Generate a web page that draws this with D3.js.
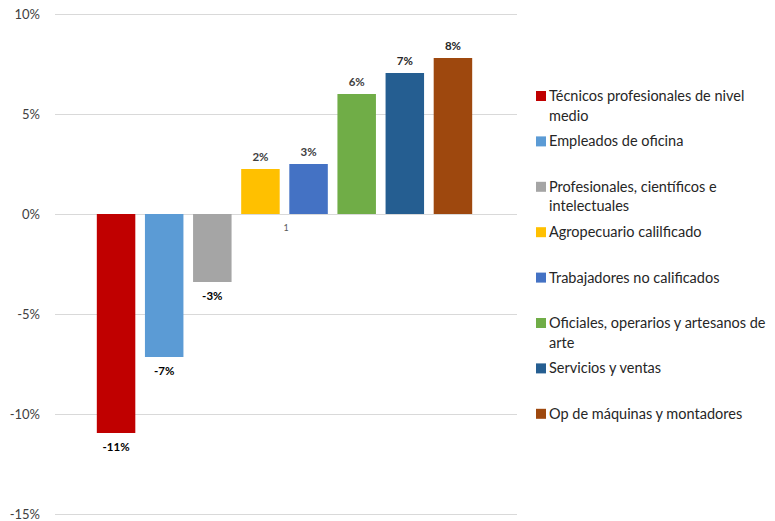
<!DOCTYPE html>
<html>
<head>
<meta charset="utf-8">
<script src="https://cdn.jsdelivr.net/npm/d3@7.9.0/dist/d3.min.js"></script>
<style>
  body { margin: 0; background: #fff; }
  svg { font-family: Lato, "Open Sans", sans-serif; }
</style>
</head>
<body>
<svg id="chart" width="775" height="521"></svg>
<script>
const categories = [
  'Técnicos profesionales de nivel medio',
  'Empleados de oficina',
  'Profesionales, científicos e intelectuales',
  'Agropecuario calilficado',
  'Trabajadores no calificados',
  'Oficiales, operarios y artesanos de arte',
  'Servicios y ventas',
  'Op de máquinas y montadores'
];
const values = [-10.95, -7.15, -3.4, 2.25, 2.5, 6.0, 7.05, 7.8];
const labels = ['-11%', '-7%', '-3%', '2%', '3%', '6%', '7%', '8%'];
const colors = ['#c00000', '#5b9bd5', '#a5a5a5', '#ffc000', '#4472c4', '#70ad47', '#255e91', '#9e480e'];
const labelColors = ['#000', '#000', '#000', '#404040', '#404040', '#404040', '#262626', '#262626'];
const yTicks = [10, 5, 0, -5, -10, -15];
const groupLabel = '1';

const svg = d3.select('#chart');

const y = d3.scaleLinear().domain([-15, 10]).range([514, 14]);
const group = d3.scaleBand().domain([groupLabel]).range([55, 517]).paddingInner(0).paddingOuter(0);
const x = d3.scaleBand()
  .domain(categories)
  .range([group(groupLabel) + 37, group(groupLabel) + group.bandwidth() - 40])
  .paddingInner(0.2)
  .paddingOuter(0.1);

// gridlines
svg.append('g')
  .selectAll('line')
  .data(yTicks)
  .join('line')
  .attr('x1', 55)
  .attr('x2', 517)
  .attr('y1', d => y(d) + 0.5)
  .attr('y2', d => y(d) + 0.5)
  .attr('stroke', '#d9d9d9')
  .attr('stroke-width', 1);

// y axis labels
svg.append('g')
  .selectAll('text')
  .data(yTicks)
  .join('text')
  .attr('x', 40)
  .attr('y', d => y(d))
  .attr('dy', '0.35em')
  .attr('text-anchor', 'end')
  .attr('font-size', 13)
  .attr('fill', '#404040')
  .text(d => d + '%');

// bars
svg.append('g')
  .selectAll('rect')
  .data(values)
  .join('rect')
  .attr('x', (d, i) => x(categories[i]))
  .attr('width', x.bandwidth())
  .attr('y', d => y(Math.max(0, d)))
  .attr('height', d => Math.abs(y(d) - y(0)))
  .attr('fill', (d, i) => colors[i]);

// value labels
svg.append('g')
  .selectAll('text')
  .data(values)
  .join('text')
  .attr('x', (d, i) => x(categories[i]) + x.bandwidth() / 2)
  .attr('y', d => d < 0 ? y(d) + 18 : y(d) - 8)
  .attr('text-anchor', 'middle')
  .attr('font-size', 11.5)
  .attr('font-weight', 'bold')
  .attr('fill', (d, i) => labelColors[i])
  .text((d, i) => labels[i]);

// category label
svg.append('text')
  .attr('x', group(groupLabel) + group.bandwidth() / 2)
  .attr('y', 231)
  .attr('text-anchor', 'middle')
  .attr('font-size', 9)
  .attr('fill', '#595959')
  .text(groupLabel);

// legend
const legendTop = 96;
const legendStep = 45.4;
const maxW = 225;
const legend = svg.append('g');
categories.forEach((c, i) => {
  const cy = legendTop + i * legendStep;
  legend.append('rect')
    .attr('x', 536)
    .attr('y', cy - 5)
    .attr('width', 10)
    .attr('height', 10)
    .attr('fill', colors[i]);
  const t = legend.append('text')
    .attr('x', 549)
    .attr('y', cy)
    .attr('font-size', 14.5)
    .attr('fill', '#262626');
  // word wrap
  const words = c.split(' ');
  let line = [];
  let tspan = t.append('tspan').attr('x', 549).attr('dy', '0.35em');
  words.forEach(w => {
    line.push(w);
    tspan.text(line.join(' '));
    if (tspan.node().getComputedTextLength() > maxW && line.length > 1) {
      line.pop();
      tspan.text(line.join(' '));
      line = [w];
      tspan = t.append('tspan').attr('x', 549).attr('dy', '1.35em').text(w);
    }
  });
});
</script>
</body>
</html>
